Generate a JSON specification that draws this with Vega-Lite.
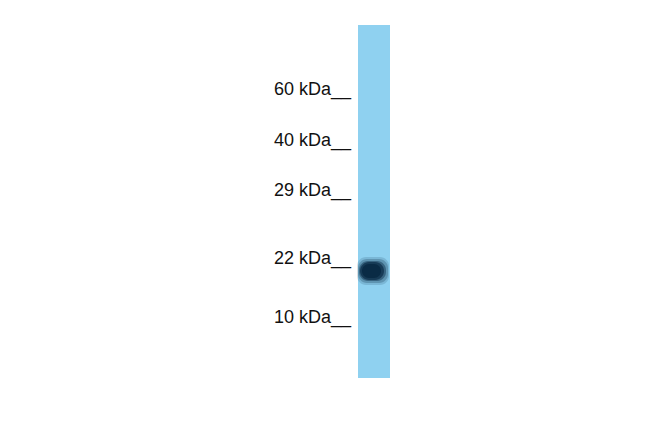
{
  "$schema": "https://vega.github.io/schema/vega-lite/v6.json",
  "autosize": {"type": "fit", "contains": "padding"},
  "width": 650,
  "height": 433,
  "padding": 0,
  "background": "white",
  "config": {"view": {"stroke": null}},
  "datasets": {
    "markers": [
      {"label": "60 kDa__", "ypos": 95},
      {"label": "40 kDa__", "ypos": 146},
      {"label": "29 kDa__", "ypos": 196},
      {"label": "22 kDa__", "ypos": 264},
      {"label": "10 kDa__", "ypos": 323}
    ],
    "lane": [
      {"x1": 358, "x2": 390, "y1": 25, "y2": 378}
    ],
    "band": [
      {"layer": "halo1", "x1": 357, "x2": 389, "y1": 257, "y2": 285, "op": 0.15, "r": 14},
      {"layer": "halo2", "x1": 358, "x2": 388, "y1": 259, "y2": 283, "op": 0.25, "r": 12},
      {"layer": "mid", "x1": 359, "x2": 386, "y1": 261, "y2": 281, "op": 0.45, "r": 10},
      {"layer": "inner", "x1": 360, "x2": 384, "y1": 262, "y2": 280, "op": 0.7, "r": 9},
      {"layer": "core", "x1": 362, "x2": 381, "y1": 264, "y2": 278, "op": 0.95, "r": 7}
    ]
  },
  "layer": [
    {
      "data": {"name": "lane"},
      "mark": {"type": "rect", "color": "#8fd1f0"},
      "encoding": {
        "x": {"field": "x1", "type": "quantitative", "scale": {"domain": [0, 650]}, "axis": null},
        "x2": {"field": "x2"},
        "y": {"field": "y1", "type": "quantitative", "scale": {"domain": [433, 0]}, "axis": null},
        "y2": {"field": "y2"}
      }
    },
    {
      "data": {"name": "band"},
      "mark": {"type": "rect", "color": "#0a2a45", "cornerRadius": 9},
      "encoding": {
        "x": {"field": "x1", "type": "quantitative", "scale": {"domain": [0, 650]}, "axis": null},
        "x2": {"field": "x2"},
        "y": {"field": "y1", "type": "quantitative", "scale": {"domain": [433, 0]}, "axis": null},
        "y2": {"field": "y2"},
        "opacity": {"field": "op", "type": "quantitative", "scale": null}
      }
    },
    {
      "data": {"name": "markers"},
      "mark": {"type": "text", "align": "right", "baseline": "alphabetic", "font": "Liberation Sans", "fontSize": 18, "color": "#111111"},
      "encoding": {
        "x": {"datum": 351, "type": "quantitative", "scale": {"domain": [0, 650]}},
        "y": {"field": "ypos", "type": "quantitative", "scale": {"domain": [433, 0]}},
        "text": {"field": "label"}
      }
    }
  ]
}
